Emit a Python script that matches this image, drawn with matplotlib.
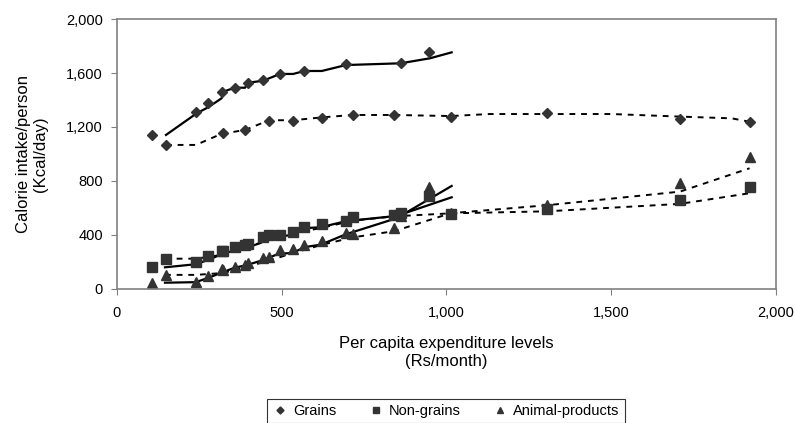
import numpy as np
import matplotlib
matplotlib.use('Agg')
import matplotlib.pyplot as plt
from matplotlib.ticker import FuncFormatter

plt.rcParams['font.family'] = ['Liberation Sans', 'DejaVu Sans']

# expenditure classes (Rs/month) for the two rounds
x_solid = [108, 240, 277, 320, 360, 399, 444, 495, 569, 695, 862, 948]
x_dash = [149, 323, 389, 462, 535, 621, 716, 842, 1013, 1305, 1708, 1920]

grains_solid = [1141, 1314, 1380, 1459, 1491, 1528, 1548, 1595, 1615, 1664, 1672, 1753]
nongrains_solid = [165, 202, 244, 284, 309, 335, 383, 400, 457, 506, 561, 689]
animal_solid = [42, 54, 96, 146, 165, 190, 227, 289, 326, 417, 540, 758]

grains_dash = [1064, 1153, 1178, 1247, 1247, 1269, 1289, 1289, 1277, 1301, 1257, 1239]
nongrains_dash = [224, 280, 326, 400, 424, 481, 531, 545, 555, 590, 659, 758]
animal_dash = [104, 140, 180, 239, 294, 358, 407, 450, 565, 622, 783, 980]

# trend lines
grains_solid_fit_x = [149, 242, 277, 318, 323, 358, 389, 399, 444, 495, 535, 569, 622, 695, 861, 950, 1016]
grains_solid_fit_y = [1141, 1301, 1346, 1413, 1462, 1491, 1491, 1528, 1543, 1593, 1593, 1615, 1615, 1659, 1672, 1709, 1753]
grains_dash_fit_x = [149, 240, 321, 340, 389, 462, 535, 621, 716, 842, 1013, 1130, 1502, 1709, 1866, 1920]
grains_dash_fit_y = [1067, 1067, 1153, 1158, 1178, 1250, 1250, 1271, 1289, 1289, 1281, 1296, 1296, 1277, 1264, 1239]

nongrains_solid_fit_x = [146, 240, 277, 318, 356, 392, 434, 455, 485, 534, 568, 619, 695, 849, 1016]
nongrains_solid_fit_y = [160, 183, 215, 257, 285, 303, 339, 370, 387, 400, 450, 457, 502, 541, 679]
nongrains_dash_fit_x = [146, 240, 323, 389, 462, 535, 621, 716, 842, 1013, 1305, 1708, 1920]
nongrains_dash_fit_y = [224, 224, 254, 305, 363, 412, 452, 506, 538, 560, 575, 630, 709]

animal_solid_fit_x = [146, 240, 277, 320, 357, 392, 440, 460, 490, 535, 568, 619, 695, 849, 1016]
animal_solid_fit_y = [46, 50, 82, 122, 157, 175, 211, 229, 260, 267, 309, 328, 405, 524, 763]
animal_dash_fit_x = [146, 240, 323, 389, 462, 535, 621, 716, 842, 1013, 1305, 1709, 1920]
animal_dash_fit_y = [104, 104, 118, 160, 210, 266, 326, 382, 428, 561, 620, 721, 894]

mcol = '#333333'
fig = plt.figure(figsize=(7.95, 4.23), dpi=100)
ax = fig.add_axes([0.147, 0.317, 0.829, 0.638])

# lines
ax.plot(grains_solid_fit_x, grains_solid_fit_y, color='black', lw=1.6)
ax.plot(nongrains_solid_fit_x, nongrains_solid_fit_y, color='black', lw=1.6)
ax.plot(animal_solid_fit_x, animal_solid_fit_y, color='black', lw=1.6)
ax.plot(grains_dash_fit_x, grains_dash_fit_y, color='black', lw=1.4, ls=(0, (3, 3)))
ax.plot(nongrains_dash_fit_x, nongrains_dash_fit_y, color='black', lw=1.4, ls=(0, (3, 3)))
ax.plot(animal_dash_fit_x, animal_dash_fit_y, color='black', lw=1.4, ls=(0, (3, 3)))

# markers
ms = 6.5
ax.plot(x_solid, grains_solid, 'D', color=mcol, ms=ms - 1, ls='none', label='Grains')
ax.plot(x_solid, nongrains_solid, 's', color=mcol, ms=ms, ls='none', label='Non-grains')
ax.plot(x_solid, animal_solid, '^', color=mcol, ms=ms + 0.5, ls='none', label='Animal-products')
ax.plot(x_dash, grains_dash, 'D', color=mcol, ms=ms - 1, ls='none')
ax.plot(x_dash, nongrains_dash, 's', color=mcol, ms=ms, ls='none')
ax.plot(x_dash, animal_dash, '^', color=mcol, ms=ms + 0.5, ls='none')

ax.set_xlim(0, 2000)
ax.set_ylim(0, 2000)
ax.set_xticks([0, 500, 1000, 1500, 2000])
ax.set_yticks([0, 400, 800, 1200, 1600, 2000])
fmt = FuncFormatter(lambda v, p: '{:,.0f}'.format(v))
ax.xaxis.set_major_formatter(fmt)
ax.yaxis.set_major_formatter(fmt)
for s in ax.spines.values():
    s.set_color('#808080')
    s.set_linewidth(1.2)
ax.tick_params(direction='out', color='#808080', length=4, labelsize=10.5, colors='#808080')
ax.tick_params(axis='x', pad=8, labelcolor='black')
ax.tick_params(axis='y', pad=6, labelcolor='black')

ax.set_xlabel('Per capita expenditure levels\n(Rs/month)', fontsize=12, labelpad=12)
ax.set_ylabel('Calorie intake/person\n(Kcal/day)', fontsize=12, labelpad=13)

leg = fig.legend(loc='center', bbox_to_anchor=(0.561, 0.028), ncol=3, fontsize=10.5,
                 frameon=True, fancybox=False, handletextpad=0.4, columnspacing=2.2,
                 borderpad=0.35, markerscale=0.65, handlelength=1.0)
leg.get_frame().set_edgecolor('black')
leg.get_frame().set_linewidth(0.8)

fig.savefig('out.png', dpi=100)
